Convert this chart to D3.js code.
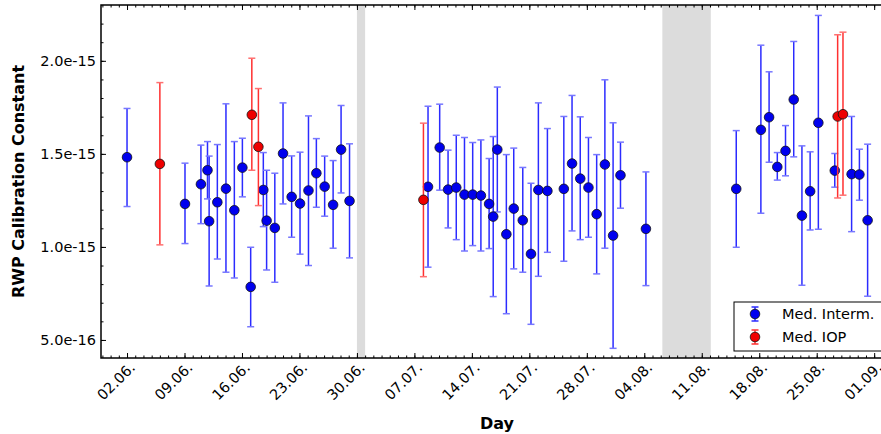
<!DOCTYPE html>
<html><head><meta charset="utf-8">
<script src="https://cdn.jsdelivr.net/npm/d3@7"></script>
<style>body{margin:0;background:#fff}text{font-family:"DejaVu Sans",sans-serif}</style>
</head><body><svg id="chart" width="881" height="434"></svg>
<script>
// day offsets from 02.06., values in units of 1e-15
var interDays = [0,7.06,9.0,9.8,10.0,11.0,12.05,13.07,14.05,15.06,16.6,17.0,18.0,19.0,20.05,21.07,22.1,23.06,24.07,25.1,26.07,27.1,
  36.66,38.08,39.1,40.1,41.1,42.1,43.1,44.1,44.6,45.1,46.2,47.1,48.2,49.2,50.1,51.2,53.2,54.2,55.2,56.2,57.2,58.2,59.2,60.1,63.2,
  74.2,77.2,78.2,79.2,80.2,81.2,82.2,83.2,84.2,86.2,88.25,89.2,90.2];
var interVal = [1.482,1.231,1.337,1.412,1.138,1.24,1.313,1.197,1.426,0.785,1.306,1.141,1.102,1.502,1.269,1.233,1.303,1.396,1.324,1.226,1.523,1.247,
  1.323,1.534,1.308,1.319,1.281,1.281,1.276,1.231,1.163,1.523,1.068,1.206,1.143,0.962,1.306,1.301,1.312,1.448,1.367,1.319,1.176,1.443,1.061,1.385,1.097,
  1.312,1.629,1.697,1.43,1.516,1.792,1.168,1.299,1.667,1.41,1.391,1.389,1.143];
var interHi = [1.744,1.45,1.547,1.566,1.488,1.55,1.769,1.566,1.584,0.998,1.507,1.412,1.396,1.774,1.489,1.509,1.704,1.582,1.488,1.464,1.76,1.554,
  1.756,1.767,1.52,1.6,1.588,1.561,1.575,1.475,1.593,1.859,1.496,1.531,1.427,1.342,1.774,1.636,1.701,1.814,1.699,1.588,1.496,1.898,1.667,1.563,1.403,
  1.625,2.084,1.941,1.507,1.652,2.104,1.543,1.511,2.244,1.502,1.701,1.525,1.552];
var interLo = [1.217,1.018,1.125,1.258,0.79,0.935,0.864,0.833,1.269,0.571,1.109,0.876,0.81,1.231,1.052,0.961,0.9,1.213,1.165,0.993,1.29,0.941,
  0.891,1.305,1.102,1.039,0.978,1.007,0.978,0.991,0.733,1.188,0.641,0.882,0.864,0.584,0.842,0.971,0.923,1.086,1.039,1.052,0.855,0.993,0.455,1.208,0.792,
  0.998,1.181,1.455,1.359,1.382,1.484,0.794,1.091,1.095,1.321,1.082,1.251,0.735];
var iopDays = [4.0,15.2,16.0,36.1,86.55,87.2];
var iopVal = [1.446,1.71,1.538,1.253,1.701,1.713];
var iopHi = [1.883,2.014,1.851,1.665,2.14,2.154];
var iopLo = [1.011,1.412,1.222,0.84,1.263,1.278];
var gaps = [[28.0,29.0],[65.2,71.1]];
var yTicks = [0.5,1.0,1.5,2.0];
var yTickLabels = ["5.0e-16","1.0e-15","1.5e-15","2.0e-15"];

var t0 = new Date(2016,5,2);
function dayToDate(d){ return new Date(t0.getTime() + d*864e5); }

var L = 101, R = 881, T = 5, B = 358;
var svg = d3.select("#chart");
var x = d3.scaleTime().domain([dayToDate(-3.17), dayToDate(91.83)]).range([L, R]);
var y = d3.scaleLinear().domain([0.403, 2.30]).range([B, T]);

svg.selectAll(".gap").data(gaps).enter().append("rect")
  .attr("x", function(d){ return x(dayToDate(d[0])); })
  .attr("width", function(d){ return x(dayToDate(d[1])) - x(dayToDate(d[0])); })
  .attr("y", T).attr("height", B - T).attr("fill", "#dcdcdc");

function series(days, val, hi, lo, col, capCol) {
  var rows = days.map(function(d,i){ return {x: dayToDate(d), v: val[i], hi: hi[i], lo: lo[i]}; });
  var g = svg.append("g");
  g.selectAll(".eb").data(rows).enter().append("line")
    .attr("x1", function(d){ return x(d.x); }).attr("x2", function(d){ return x(d.x); })
    .attr("y1", function(d){ return y(d.hi); }).attr("y2", function(d){ return y(d.lo); })
    .attr("stroke", col).attr("stroke-width", 1.5);
  ["hi","lo"].forEach(function(k){
    g.selectAll(".cap" + k).data(rows).enter().append("line")
      .attr("x1", function(d){ return x(d.x) - 3.5; }).attr("x2", function(d){ return x(d.x) + 3.5; })
      .attr("y1", function(d){ return y(d[k]); }).attr("y2", function(d){ return y(d[k]); })
      .attr("stroke", capCol).attr("stroke-width", 1.5);
  });
  return {g: g, rows: rows};
}
var s1 = series(interDays, interVal, interHi, interLo, "#2b2bff", "#7777ff");
var s2 = series(iopDays, iopVal, iopHi, iopLo, "#ff3030", "#ff7070");
[[s1,"#0000ee"],[s2,"#ee0000"]].forEach(function(p){
  p[0].g.selectAll("circle").data(p[0].rows).enter().append("circle")
    .attr("cx", function(d){ return x(d.x); }).attr("cy", function(d){ return y(d.v); })
    .attr("r", 4.8).attr("fill", p[1]).attr("stroke", "#111").attr("stroke-width", 0.8);
});

// axes
var weekly = d3.range(0, 92, 7).map(dayToDate);
var daily = d3.range(-3, 92).map(dayToDate);
var fmt = d3.timeFormat("%d.%m.");
var xb = svg.append("g").attr("transform", "translate(0," + B + ")")
  .call(d3.axisBottom(x).tickValues(weekly).tickFormat(fmt).tickSize(-5).tickPadding(9));
xb.selectAll("text").attr("font-size", 14.5).attr("text-anchor", "end")
  .attr("transform", "rotate(-45)").attr("dx", "-0.1em").attr("dy", "0.3em");
svg.append("g").attr("transform", "translate(0," + B + ")")
  .call(d3.axisBottom(x).tickValues(daily).tickFormat("").tickSize(-2.5));
svg.append("g").attr("transform", "translate(0," + T + ")")
  .call(d3.axisTop(x).tickValues(weekly).tickFormat("").tickSize(-5));
svg.append("g").attr("transform", "translate(0," + T + ")")
  .call(d3.axisTop(x).tickValues(daily).tickFormat("").tickSize(-2.5));

var yl = svg.append("g").attr("transform", "translate(" + L + ",0)")
  .call(d3.axisLeft(y).tickValues(yTicks).tickFormat(function(d,i){ return yTickLabels[i]; }).tickSize(-5).tickPadding(5));
yl.selectAll("text").attr("font-size", 14.5);
svg.append("g").attr("transform", "translate(" + L + ",0)")
  .call(d3.axisLeft(y).tickValues(d3.range(5, 23).map(function(v){ return v/10; })).tickFormat("").tickSize(-2.5));
svg.selectAll(".domain").remove();
svg.selectAll(".tick line").attr("stroke", "#000");
svg.append("rect").attr("x", L).attr("y", T).attr("width", R - L + 2).attr("height", B - T)
  .attr("fill", "none").attr("stroke", "#000").attr("stroke-width", 1.5);

svg.append("text").attr("x", (L + R)/2 + 6).attr("y", 429).attr("text-anchor", "middle")
  .attr("font-size", 16).attr("font-weight", "bold").text("Day");
svg.append("text").attr("transform", "translate(24," + (T + B)/2 + ") rotate(-90)")
  .attr("text-anchor", "middle").attr("font-size", 16).attr("font-weight", "bold").text("RWP Calibration Constant");

// legend
var lg = svg.append("g").attr("transform", "translate(734,302)");
lg.append("rect").attr("width", 150).attr("height", 49).attr("fill", "#fff").attr("stroke", "#000").attr("stroke-width", 1);
[["Med. Interm.", "#0000ee", "#2b2bff"], ["Med. IOP", "#ee0000", "#ff3030"]].forEach(function(e, i){
  var cy = 12 + i*23;
  lg.append("line").attr("x1", 21).attr("x2", 21).attr("y1", cy - 7).attr("y2", cy + 7).attr("stroke", e[2]).attr("stroke-width", 1.5);
  [-7, 7].forEach(function(o){
    lg.append("line").attr("x1", 17.5).attr("x2", 24.5).attr("y1", cy + o).attr("y2", cy + o).attr("stroke", e[2]).attr("stroke-width", 1.5);
  });
  lg.append("circle").attr("cx", 21).attr("cy", cy).attr("r", 4.8).attr("fill", e[1]).attr("stroke", "#111").attr("stroke-width", 0.8);
  lg.append("text").attr("x", 48).attr("y", cy + 5).attr("font-size", 14.5).text(e[0]);
});
</script></body></html>
